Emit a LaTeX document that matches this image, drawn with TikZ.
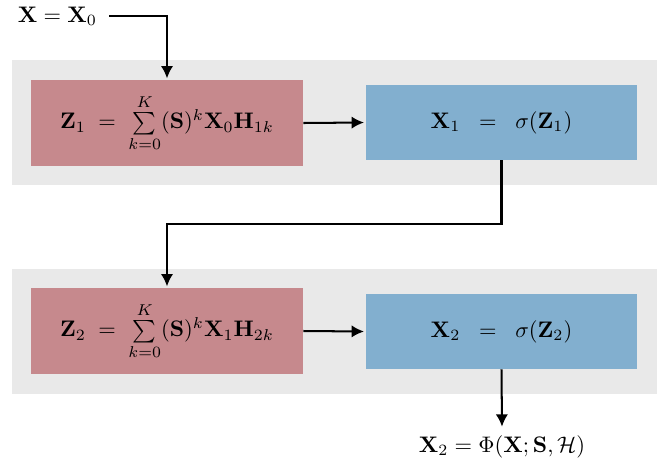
\documentclass[tikz,border=0pt]{standalone}
\usepackage{amsmath}
\usetikzlibrary{positioning,arrows.meta}

\definecolor{filterred}{RGB}{198,137,141}
\definecolor{sigmablue}{RGB}{130,175,207}
\definecolor{panelgray}{RGB}{233,233,233}

\begin{document}
\begin{tikzpicture}[x=0.445pt,y=-0.445pt,
  panel/.style={fill=panelgray,minimum width=287pt,minimum height=55.6pt,inner sep=0pt},
  filterbox/.style={fill=filterred,minimum width=121pt,minimum height=38.3pt,inner sep=0pt},
  sigmabox/.style={fill=sigmablue,minimum width=121pt,minimum height=33.4pt,inner sep=0pt},
  flow/.style={line width=0.9pt,-{Latex[length=5.5pt,width=5.5pt]},shorten >=0.5pt}]
\useasboundingbox (0,0) rectangle (664,466);

%-------------------Layer 1--------------------%
\node[panel] (layer1) at (334.5,122.5) {};
\node[filterbox] (red1) at (167,123) {$\mathbf{Z}_1 \;=\; \sum\limits_{k=0}^{K} (\mathbf{S})^k \mathbf{X}_0 \mathbf{H}_{1k}$};
\node[sigmabox] (blue1) at (501.5,122.5) {$\mathbf{X}_1 \;\;=\;\; \sigma(\mathbf{Z}_1)$};
%----------------------------------------------------%

%-------------------Layer 2--------------------%
\node[panel] (layer2) at (334.5,331.5) {};
\node[filterbox] (red2) at (167,331) {$\mathbf{Z}_2 \;=\; \sum\limits_{k=0}^{K} (\mathbf{S})^k \mathbf{X}_1 \mathbf{H}_{2k}$};
\node[sigmabox] (blue2) at (501.5,331.5) {$\mathbf{X}_2 \;\;=\;\; \sigma(\mathbf{Z}_2)$};
%----------------------------------------------------%

\node[outer sep=2pt] (input) at (57.5,16) {$\mathbf{X} = \mathbf{X}_0$};
\node (output) at (502,447) {$\mathbf{X}_2 = \Phi(\mathbf{X};\mathbf{S},\mathcal{H})$};

\draw[flow] (input.east) -| (red1.north);
\draw[flow] (red1.east) -- (blue1.west);
\draw[flow] (blue1.south) -- ++(0,64) -| (red2.north);
\draw[flow] (red2.east) -- (blue2.west);
\draw[flow] (blue2.south) -- (output.north);
\end{tikzpicture}
\end{document}
